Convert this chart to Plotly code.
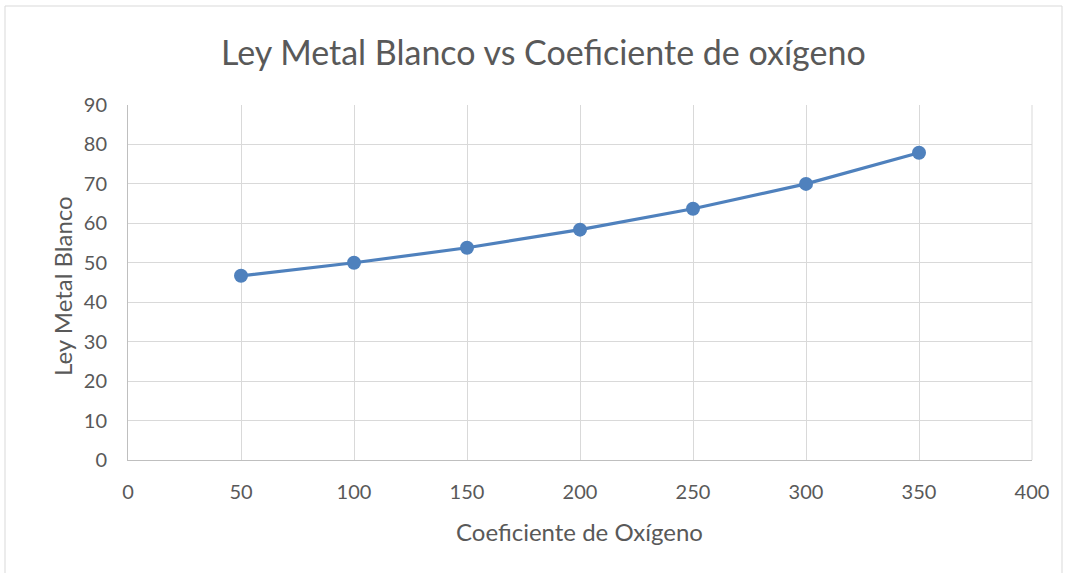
import plotly.graph_objects as go

# Coeficiente de oxígeno vs ley de metal blanco
coef_oxigeno = [50, 100, 150, 200, 250, 300, 350]
ley_metal_blanco = [46.7, 50.0, 53.8, 58.4, 63.7, 70.0, 77.9]

x_ticks = [0, 50, 100, 150, 200, 250, 300, 350, 400]
y_ticks = [0, 10, 20, 30, 40, 50, 60, 70, 80, 90]

W, H = 1070, 573
L, R, T, B = 128, 38, 105, 113
pw, ph = W - L - R, H - T - B

font_family = "Lato, 'Open Sans', sans-serif"
text_color = "#595959"
grid_color = "#D9D9D9"


def px_x(x):
    return (x - L) / pw


def px_y(y):
    return (H - B - y) / ph


fig = go.Figure(
    go.Scatter(
        x=coef_oxigeno,
        y=ley_metal_blanco,
        mode="lines+markers",
        line=dict(color="#4F81BD", width=3.2),
        marker=dict(color="#4F81BD", size=14),
        showlegend=False,
        hoverinfo="x+y",
    )
)

fig.update_layout(
    width=W,
    height=H,
    margin=dict(l=L, r=R, t=T, b=B, autoexpand=False),
    paper_bgcolor="white",
    plot_bgcolor="white",
    font=dict(family=font_family, color=text_color, size=20),
    xaxis=dict(
        range=[0, 400],
        tickvals=x_ticks,
        showgrid=True,
        gridcolor=grid_color,
        gridwidth=1,
        zeroline=False,
        showline=True,
        linecolor="#BFBFBF",
        linewidth=1,
        ticks="",
        ticklen=0,
        ticklabelstandoff=14,
        tickfont=dict(size=20, color=text_color),
    ),
    yaxis=dict(
        range=[0, 90],
        tickvals=y_ticks,
        showgrid=True,
        gridcolor=grid_color,
        gridwidth=1,
        zeroline=False,
        showline=True,
        linecolor="#BFBFBF",
        linewidth=1,
        ticks="",
        ticklabelstandoff=16,
        tickfont=dict(size=20, color=text_color),
    ),
    annotations=[
        dict(text="Ley Metal Blanco vs Coeficiente de oxígeno",
             xref="paper", yref="paper", x=px_x(543), y=px_y(52),
             xanchor="center", yanchor="middle", showarrow=False,
             font=dict(size=34, color=text_color, family=font_family)),
        dict(text="Coeficiente de Oxígeno",
             xref="paper", yref="paper", x=px_x(579), y=px_y(531),
             xanchor="center", yanchor="middle", showarrow=False,
             font=dict(size=24, color=text_color, family=font_family)),
        dict(text="Ley Metal Blanco", textangle=-90,
             xref="paper", yref="paper", x=px_x(62), y=px_y(286),
             xanchor="center", yanchor="middle", showarrow=False,
             font=dict(size=24, color=text_color, family=font_family)),
    ],
    shapes=[
        # right edge of the plot area
        dict(type="line", xref="paper", yref="paper", x0=1, x1=1, y0=0, y1=1,
             line=dict(color=grid_color, width=1)),
        # chart frame
        dict(type="rect", xref="paper", yref="paper",
             x0=px_x(5), x1=px_x(1062), y0=px_y(600), y1=px_y(6),
             line=dict(color="#D9D9D9", width=1), fillcolor="rgba(0,0,0,0)", layer="below"),
    ],
)

fig.write_html("out.html")
